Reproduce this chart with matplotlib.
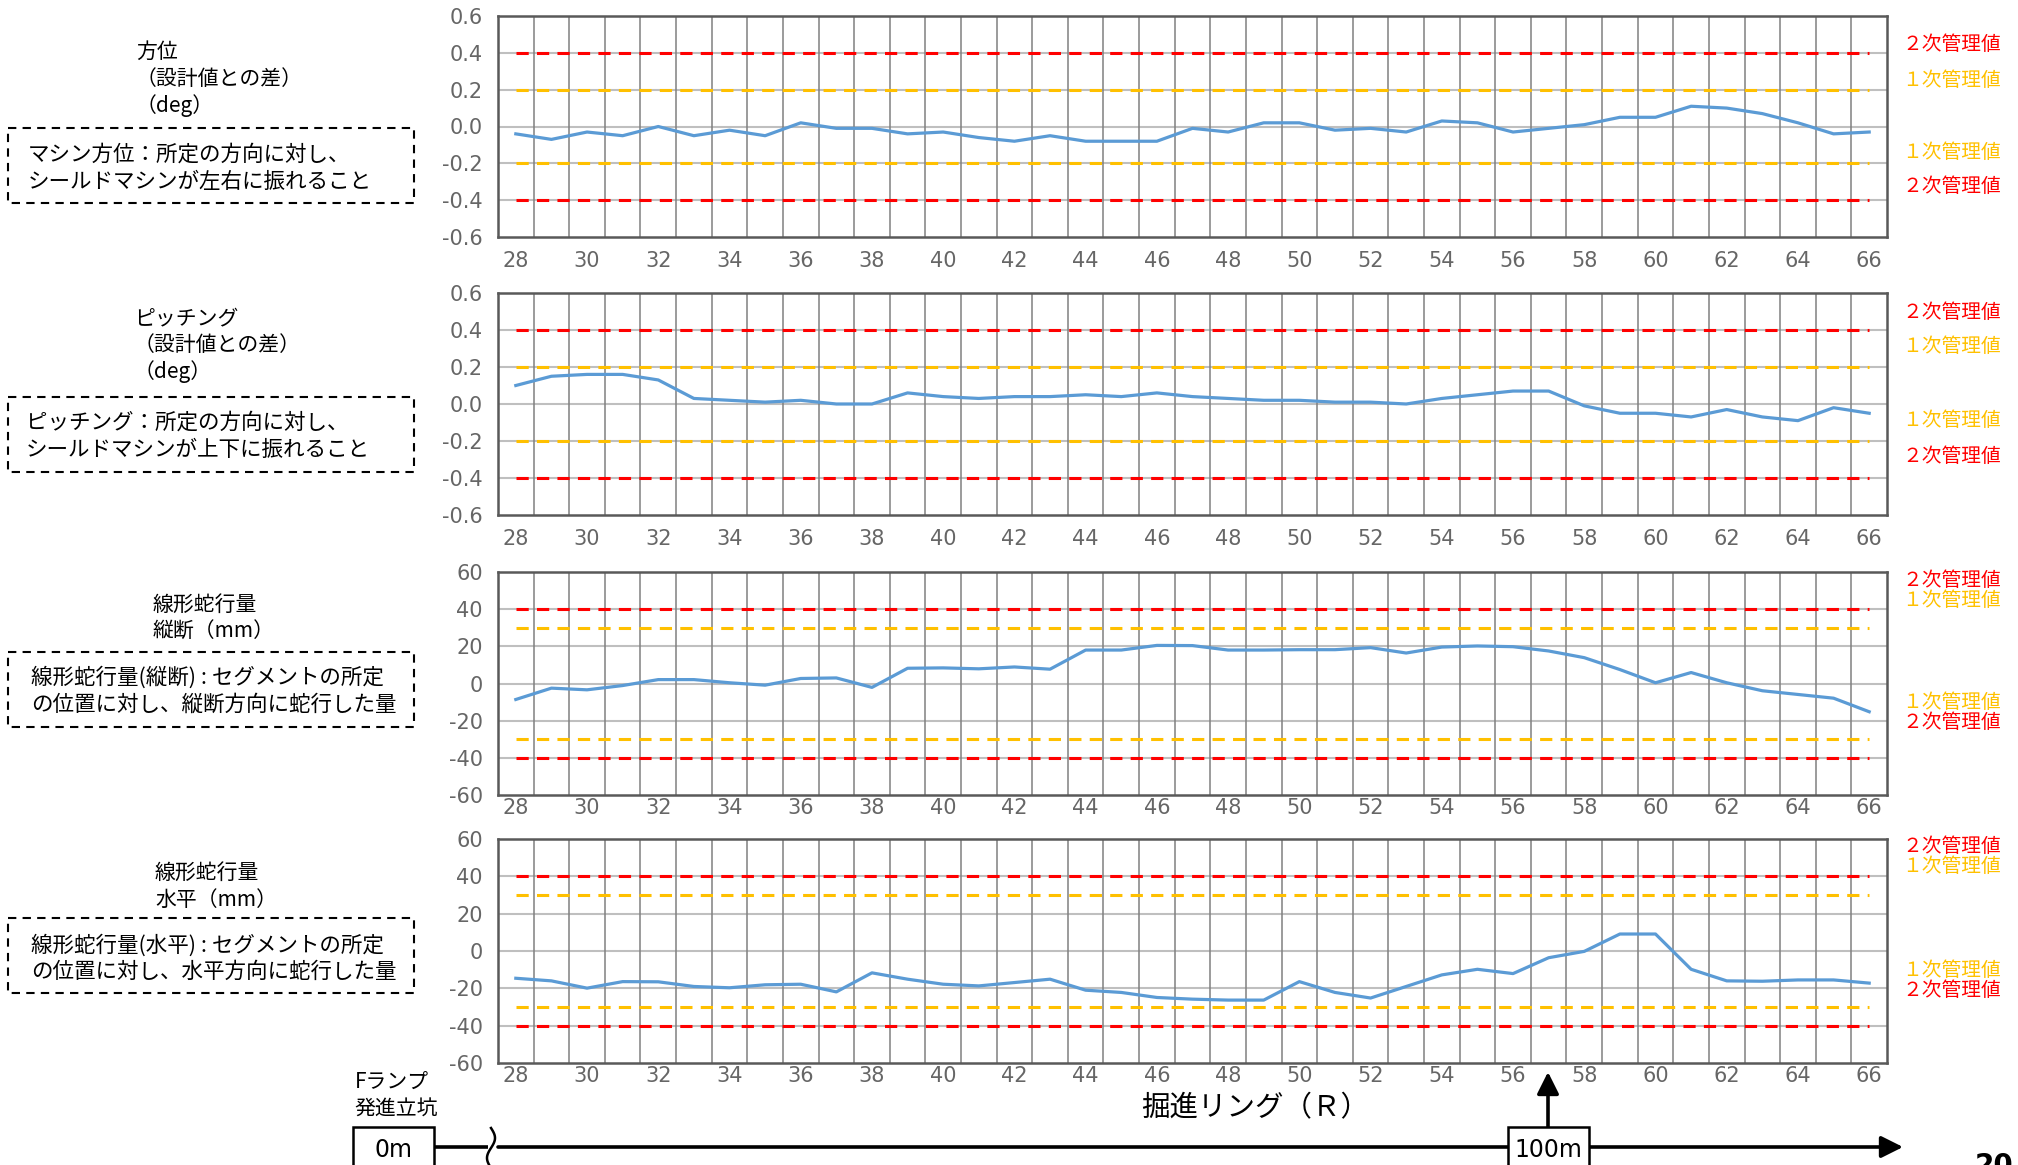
import matplotlib
matplotlib.use("Agg")
import matplotlib.pyplot as plt
from matplotlib.patches import Rectangle
import numpy as np

plt.rcParams['font.family'] = ['Noto Sans CJK JP', 'DejaVu Sans']

W, H = 2018, 1165

# ring numbers (categories)
rings = list(range(28, 67))

# measured values per ring
houi = [-0.04, -0.07, -0.03, -0.05, 0.00, -0.05, -0.02, -0.05, 0.02, -0.01,
        -0.01, -0.04, -0.03, -0.06, -0.08, -0.05, -0.08, -0.08, -0.08, -0.01,
        -0.03, 0.02, 0.02, -0.02, -0.01, -0.03, 0.03, 0.02, -0.03, -0.01,
        0.01, 0.05, 0.05, 0.11, 0.10, 0.07, 0.02, -0.04, -0.03]
pitching = [0.10, 0.15, 0.16, 0.16, 0.13, 0.03, 0.02, 0.01, 0.02, 0.00,
            0.00, 0.06, 0.04, 0.03, 0.04, 0.04, 0.05, 0.04, 0.06, 0.04,
            0.03, 0.02, 0.02, 0.01, 0.01, 0.00, 0.03, 0.05, 0.07, 0.07,
            -0.01, -0.05, -0.05, -0.07, -0.03, -0.07, -0.09, -0.02, -0.05]
judan = [-8.6, -2.5, -3.4, -1.1, 2.1, 2.1, 0.4, -0.9, 2.7, 3.0,
         -2.1, 8.2, 8.4, 7.9, 8.9, 7.7, 18.0, 18.0, 20.5, 20.4,
         18.0, 18.0, 18.2, 18.2, 19.3, 16.4, 19.6, 20.2, 19.8, 17.5,
         13.9, 7.5, 0.4, 5.9, 0.4, -3.9, -5.9, -7.9, -15.2]
suihei = [-14.6, -16.0, -19.9, -16.4, -16.5, -19.0, -19.7, -18.1, -17.8, -21.9,
          -11.7, -15.1, -17.8, -18.7, -16.9, -15.1, -21.0, -22.2, -24.9, -25.8,
          -26.3, -26.3, -16.4, -22.2, -25.2, -19.0, -12.8, -9.8, -12.1, -3.6,
          -0.2, 9.1, 9.1, -9.8, -16.0, -16.2, -15.5, -15.5, -17.2]

deg_ticks = [-0.6, -0.4, -0.2, 0.0, 0.2, 0.4, 0.6]
deg_labels = ["-0.6", "-0.4", "-0.2", "0.0", "0.2", "0.4", "0.6"]
mm_ticks = [-60, -40, -20, 0, 20, 40, 60]
mm_labels = ["-60", "-40", "-20", "0", "20", "40", "60"]

# control limits (1st, 2nd)
deg_limit1, deg_limit2 = 0.2, 0.4
mm_limit1, mm_limit2 = 30, 40

RED = '#FF0000'
GOLD = '#FFC000'
BLUE = '#5B9BD5'

fig = plt.figure(figsize=(W / 100, H / 100), dpi=100)


def rect(x0, y0, x1, y1):
    return [x0 / W, 1 - y1 / H, (x1 - x0) / W, (y1 - y0) / H]


def panel(top, bottom, values, ticks, labels, lim1, lim2, xpad):
    ax = fig.add_axes(rect(498, top, 1887, bottom))
    ax.set_xlim(27.5, 66.5)
    ax.set_ylim(ticks[0], ticks[-1])
    for t in ticks[1:-1]:
        ax.axhline(t, color='#BFBFBF', lw=1.5, zorder=1)
    for x in np.arange(28.5, 66.5, 1.0):
        ax.axvline(x, color='#808080', lw=1.1, zorder=1)
    n = len(rings)
    ax.plot(rings, [lim2] * n, color=RED, lw=2.2, dashes=(4, 2.7), zorder=2)
    ax.plot(rings, [-lim2] * n, color=RED, lw=2.2, dashes=(4, 2.7), zorder=2)
    ax.plot(rings, [lim1] * n, color=GOLD, lw=2.2, dashes=(4, 2.7), zorder=2)
    ax.plot(rings, [-lim1] * n, color=GOLD, lw=2.2, dashes=(4, 2.7), zorder=2)
    ax.plot(rings, values, color=BLUE, lw=2.3, zorder=3)
    ax.set_yticks(ticks)
    ax.set_yticklabels(labels, family='DejaVu Sans')
    ax.set_xticks(rings[::2])
    ax.set_xticklabels([str(r) for r in rings[::2]], family='DejaVu Sans')
    ax.tick_params(axis='y', length=0, pad=11, labelsize=15, labelcolor='#666666')
    ax.tick_params(axis='x', length=0, pad=xpad, labelsize=15, labelcolor='#666666')
    for s in ax.spines.values():
        s.set_color('#595959')
        s.set_linewidth(1.8)
    return ax


panel(16, 237, houi, deg_ticks, deg_labels, deg_limit1, deg_limit2, 10)
panel(293, 515, pitching, deg_ticks, deg_labels, deg_limit1, deg_limit2, 10)
panel(572, 795, judan, mm_ticks, mm_labels, mm_limit1, mm_limit2, 2)
panel(839, 1063, suihei, mm_ticks, mm_labels, mm_limit1, mm_limit2, 2)

# overlay in pixel coordinates
ov = fig.add_axes([0, 0, 1, 1])
ov.set_xlim(0, W)
ov.set_ylim(H, 0)
ov.axis('off')
ov.patch.set_alpha(0)

# right-side limit labels
right_labels = [
    (44, '２次管理値', RED), (80, '１次管理値', GOLD), (152, '１次管理値', GOLD), (187, '２次管理値', RED),
    (312, '２次管理値', RED), (347, '１次管理値', GOLD), (420, '１次管理値', GOLD), (456, '２次管理値', RED),
    (581, '２次管理値', RED), (601, '１次管理値', GOLD), (702, '１次管理値', GOLD), (723, '２次管理値', RED),
    (847, '２次管理値', RED), (867, '１次管理値', GOLD), (970, '１次管理値', GOLD), (990, '２次管理値', RED),
]
for y, s, c in right_labels:
    ov.text(1902, y, s, color=c, fontsize=14.2, va='center', ha='left')

# left-side titles and description boxes
FS = 15.5
titles = [
    (136, [(52, '方位'), (79, '（設計値との差）'), (106, '（deg）')]),
    (134, [(318, 'ピッチング'), (345, '（設計値との差）'), (372, '（deg）')]),
    (153, [(605, '線形蛇行量'), (632, '縦断（mm）')]),
    (155, [(873, '線形蛇行量'), (900, '水平（mm）')]),
]
for x, lines in titles:
    for y, s in lines:
        ov.text(x, y, s, fontsize=15, va='center', ha='left')

boxes = [
    (128, 203, 28, [(155, 'マシン方位：所定の方向に対し、'), (182, 'シールドマシンが左右に振れること')]),
    (397, 472, 26, [(423, 'ピッチング：所定の方向に対し、'), (450, 'シールドマシンが上下に振れること')]),
    (652, 727, 31, [(678, '線形蛇行量(縦断) : セグメントの所定'), (705, 'の位置に対し、縦断方向に蛇行した量')]),
    (918, 993, 31, [(946, '線形蛇行量(水平) : セグメントの所定'), (972, 'の位置に対し、水平方向に蛇行した量')]),
]
for y0, y1, tx, lines in boxes:
    ov.add_patch(Rectangle((8, y0), 406, y1 - y0, fill=False, ec='black',
                           lw=1.5, ls=(0, (4, 3))))
    for y, s in lines:
        ov.text(tx, y, s, fontsize=FS, va='center', ha='left')

# bottom: axis title and chainage line
ov.text(1255, 1108, '掘進リング（Ｒ）', fontsize=20.5, ha='center', va='center')
ov.text(392, 1082, 'Fランプ', fontsize=15, ha='center', va='center')
ov.text(396, 1110, '発進立坑', fontsize=15, ha='center', va='center')

ov.plot([434, 488], [1147, 1147], color='black', lw=2.6, solid_capstyle='butt')
ov.annotate('', xy=(1903, 1147), xytext=(498, 1147),
            arrowprops=dict(arrowstyle='-|>,head_length=0.6,head_width=0.3',
                            mutation_scale=22, lw=2.6, color='black',
                            shrinkA=0, shrinkB=0))
yy = np.linspace(1128, 1168, 40)
ov.plot(491 + 4 * np.sin(np.pi * (yy - 1128) / 20), yy, color='black', lw=1.8)

narrow = ['Liberation Sans Narrow', 'DejaVu Sans']
ov.add_patch(Rectangle((353, 1127), 81, 60, fc='white', ec='black', lw=1.8, zorder=4))
ov.text(393, 1150, '0m', fontsize=17, ha='center', va='center', zorder=5, family=narrow)
ov.add_patch(Rectangle((1508, 1127), 81, 60, fc='white', ec='black', lw=1.8, zorder=4))
ov.text(1548, 1150, '100m', fontsize=17, ha='center', va='center', zorder=5, family=narrow)
ov.annotate('', xy=(1548, 1072), xytext=(1548, 1127),
            arrowprops=dict(arrowstyle='-|>,head_length=0.6,head_width=0.3',
                            mutation_scale=22, lw=2.6, color='black',
                            shrinkA=0, shrinkB=0))

ov.text(1975, 1152, '20', fontsize=20, fontweight='bold', ha='left', va='top',
        family='DejaVu Sans')

fig.savefig('out.png', dpi=100)
